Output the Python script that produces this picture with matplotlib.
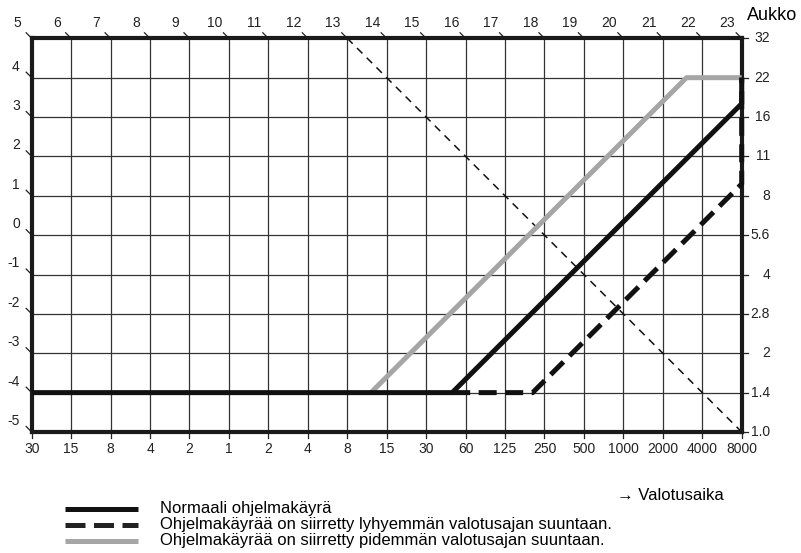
import matplotlib.pyplot as plt

plt.rcParams['font.family'] = ['Liberation Sans', 'DejaVu Sans']

# shutter speeds along the bottom (column index 0..18)
shutter_labels = ['30', '15', '8', '4', '2', '1', '2', '4', '8', '15', '30',
                  '60', '125', '250', '500', '1000', '2000', '4000', '8000']
# apertures on the right (row index 0..10)
aperture_labels = ['1.0', '1.4', '2', '2.8', '4', '5.6', '8', '11', '16', '22', '32']
# EV values on the top (cols) and on the left (rows)
ev_top = list(range(5, 24))
ev_left = list(range(-5, 5))

# program curves in (column, row) grid units
normal_x = [0, 10.66, 18, 18]
normal_y = [1, 1, 8.34, 9]
short_x = [10.66, 12.7, 18, 18]
short_y = [1, 1, 6.3, 9]
long_x = [8.6, 16.6, 18]
long_y = [1, 9, 9]
# EV 13 reference line
ev13_x = [8, 18]
ev13_y = [10, 0]

legend_labels = ['Normaali ohjelmakäyrä',
                 'Ohjelmakäyrää on siirretty lyhyemmän valotusajan suuntaan.',
                 'Ohjelmakäyrää on siirretty pidemmän valotusajan suuntaan.']

W, H = 801, 553
fig = plt.figure(figsize=(W / 100, H / 100), dpi=100)
ax = fig.add_axes([31.7 / W, 1 - 432 / H, 710 / W, 393.7 / H])
ax.set_xlim(0, 18)
ax.set_ylim(0, 10)
ax.set_xticks([])
ax.set_yticks([])
for s in ax.spines.values():
    s.set_linewidth(3)
    s.set_color('#1a1a1a')

ncol = len(shutter_labels)
nrow = len(aperture_labels)
ax.vlines(range(1, ncol - 1), 0, 10, color='#333333', lw=0.9, zorder=1)
ax.hlines(range(1, nrow - 1), 0, 18, color='#333333', lw=0.9, zorder=1)

ax.plot(ev13_x, ev13_y, color='#111111', lw=1.1, dashes=(5, 4), zorder=2)
ax.plot(long_x, long_y, color='#a6a6a6', lw=3.6, solid_capstyle='butt', zorder=3,
        clip_on=False)
ax.plot(short_x, short_y, color='#111111', lw=3.6, dashes=(3.6, 1.7), zorder=4,
        clip_on=False)
ax.plot(normal_x, normal_y, color='#111111', lw=3.6, solid_capstyle='butt', zorder=5,
        clip_on=False)

tk = dict(color='#222222', lw=0.9, clip_on=False)
d = 0.14
fs = 10
for c, lab in enumerate(shutter_labels):
    ax.plot([c, c], [0, -0.15], **tk)
    ax.text(c, -0.44, lab, ha='center', va='center', fontsize=fs, color='#222222')
for c, ev in enumerate(ev_top):
    ax.plot([c - d, c], [10 + d, 10], **tk)
    ax.text(c - 0.36, 10.38, str(ev), ha='center', va='center', fontsize=fs,
            color='#222222')
for r, ev in enumerate(ev_left):
    ax.plot([-d, 0], [r + d, r], **tk)
    ax.text(-0.3, r + 0.28, str(ev), ha='right', va='center', fontsize=fs,
            color='#222222')
for r, lab in enumerate(aperture_labels):
    ax.plot([18, 18.17], [r, r], **tk)
    ax.text(18.72, r, lab, ha='right', va='center', fontsize=fs, color='#222222')

fig.text(747 / W, 1 - 15 / H, 'Aukko', ha='left', va='center', fontsize=13)
fig.text(617 / W, 1 - 496 / H, '→ Valotusaika', ha='left', va='center', fontsize=12)

styles = [dict(color='#111111', solid_capstyle='butt'),
          dict(color='#222222', dashes=(4, 1.7)),
          dict(color='#a6a6a6', solid_capstyle='butt')]
for i, (lab, st) in enumerate(zip(legend_labels, styles)):
    y = 1 - (509 + 16 * i) / H
    fig.add_artist(plt.Line2D([65 / W, 138 / W], [y, y], lw=3.6, **st))
    fig.text(160 / W, y, lab, ha='left', va='center', fontsize=12)

fig.savefig('out.png', dpi=100)
